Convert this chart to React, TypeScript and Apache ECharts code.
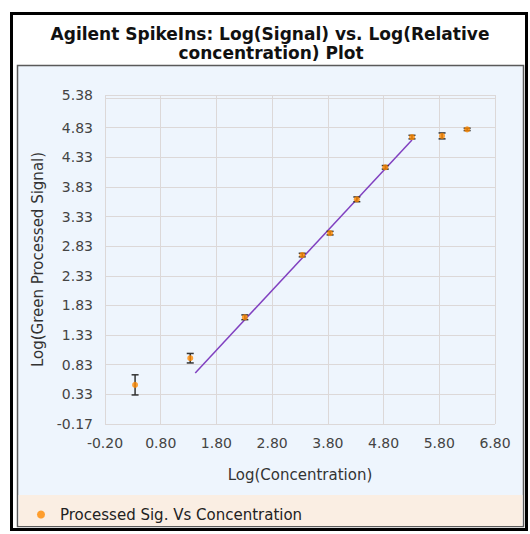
import React, { useEffect, useRef } from "react";
import * as echarts from "echarts";

const concentration = [0.34, 1.33, 2.31, 3.34, 3.84, 4.32, 4.83, 5.31, 5.85, 6.3];
const signal = [0.49, 0.94, 1.63, 2.68, 3.05, 3.62, 4.16, 4.67, 4.69, 4.8];
const errors = [0.17, 0.08, 0.04, 0.03, 0.03, 0.04, 0.03, 0.03, 0.05, 0.02];
const fitX = [1.42, 5.31];
const fitY = [0.69, 4.62];

const titleLines = ["Agilent SpikeIns: Log(Signal) vs. Log(Relative", "concentration) Plot"];
const seriesName = "Processed Sig. Vs Concentration";
const xName = "Log(Concentration)";
const yName = "Log(Green Processed Signal)";

const FONT = "DejaVu Sans";

export default function App() {
  const ref = useRef<HTMLDivElement>(null);
  useEffect(() => {
    document.body.style.margin = "0";
    const chart = echarts.init(ref.current!, null, { renderer: "svg" });
    const points = concentration.map((x, i) => [x, signal[i]]);
    const errData = concentration.map((x, i) => [x, signal[i] - errors[i], signal[i] + errors[i]]);
    const fitData = fitX.map((x, i) => [x, fitY[i]]);
    chart.setOption({
      animation: false,
      backgroundColor: "#ffffff",
      graphic: [
        { type: "rect", z: -20, shape: { x: 11.5, y: 13.5, width: 515, height: 516 }, style: { fill: "#ffffff", stroke: "#000", lineWidth: 3 } },
        { type: "rect", z: -19, shape: { x: 17.5, y: 65.5, width: 506, height: 461 }, style: { fill: "#eef5fd", stroke: "#5a5a5a", lineWidth: 1.5 } },
        { type: "rect", z: -18, shape: { x: 18.5, y: 495, width: 504, height: 31 }, style: { fill: "#faeee3" } },
        { type: "text", z: 5, x: 270, y: 34, style: { text: titleLines[0], fill: "#111", font: `bold 17px '${FONT}'`, textAlign: "center", textVerticalAlign: "middle" } },
        { type: "text", z: 5, x: 271, y: 53, style: { text: titleLines[1], fill: "#111", font: `bold 17px '${FONT}'`, textAlign: "center", textVerticalAlign: "middle" } },
      ],
      legend: {
        data: [{ name: seriesName, icon: "circle" }],
        left: 32,
        top: 502,
        itemWidth: 28,
        itemHeight: 8,
        textStyle: { fontFamily: FONT, fontSize: 15, color: "#222" },
      },
      grid: { left: 105, right: 35, top: 95, bottom: 110 },
      xAxis: {
        type: "value",
        min: -0.2,
        max: 6.8,
        interval: 1,
        name: xName,
        nameLocation: "middle",
        nameGap: 43,
        nameTextStyle: { fontFamily: FONT, fontSize: 15, color: "#333" },
        axisLine: { show: false },
        axisTick: { show: false },
        axisLabel: { fontFamily: FONT, fontSize: 14, color: "#444", margin: 12, formatter: (v: number) => v.toFixed(2) },
        splitLine: { show: true, lineStyle: { color: "#dcd8d8", width: 1 } },
      },
      yAxis: {
        type: "value",
        min: -0.17,
        max: 5.38,
        interval: 0.5,
        name: yName,
        nameLocation: "middle",
        nameGap: 54,
        nameTextStyle: { fontFamily: FONT, fontSize: 15, color: "#333" },
        axisLine: { show: false },
        axisTick: { show: true, length: 7, lineStyle: { color: "#dcd8d8" } },
        axisLabel: { fontFamily: FONT, fontSize: 14, color: "#444", margin: 12, showMaxLabel: true, formatter: (v: number) => v.toFixed(2) },
        splitLine: { show: true, lineStyle: { color: "#dcd8d8", width: 1 } },
      },
      series: [
        {
          name: "fit",
          type: "line",
          data: fitData,
          symbol: "none",
          lineStyle: { color: "#8040c0", width: 1.5 },
          z: 2,
        },
        {
          name: "errors",
          type: "custom",
          data: errData,
          z: 3,
          renderItem: (params: any, api: any) => {
            const x = api.value(0);
            const lo = api.coord([x, api.value(1)]);
            const hi = api.coord([x, api.value(2)]);
            const w = 3.5;
            const style = { stroke: "#333", lineWidth: 1.5 };
            return {
              type: "group",
              children: [
                { type: "line", shape: { x1: lo[0], y1: lo[1], x2: hi[0], y2: hi[1] }, style },
                { type: "line", shape: { x1: lo[0] - w, y1: lo[1], x2: lo[0] + w, y2: lo[1] }, style },
                { type: "line", shape: { x1: hi[0] - w, y1: hi[1], x2: hi[0] + w, y2: hi[1] }, style },
              ],
            };
          },
        },
        {
          name: seriesName,
          type: "scatter",
          data: points,
          symbol: "circle",
          symbolSize: 6,
          itemStyle: { color: "#ff8a00" },
          z: 4,
        },
      ],
    });
    return () => chart.dispose();
  }, []);
  return <div ref={ref} style={{ position: "fixed", left: 0, top: 0, width: 530, height: 534 }} />;
}
